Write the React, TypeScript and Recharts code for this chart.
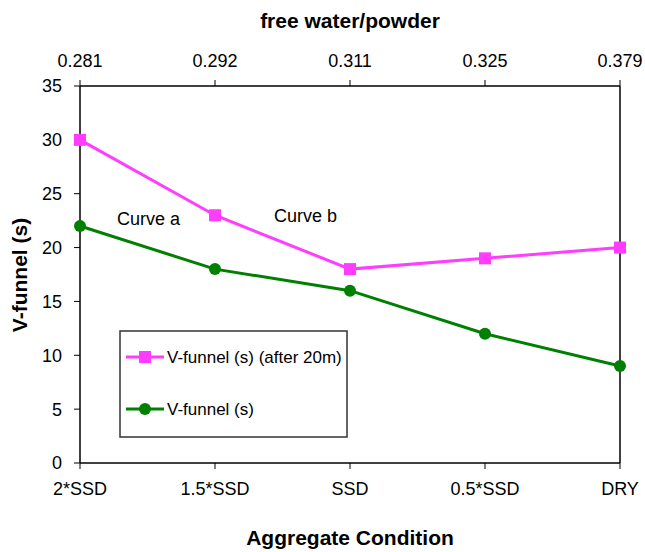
import React from "react";
import {
  LineChart,
  Line,
  XAxis,
  YAxis,
  Customized,
} from "recharts";

// ---------------------------------------------------------------------------
// Data
// ---------------------------------------------------------------------------

const CONDITIONS = ["2*SSD", "1.5*SSD", "SSD", "0.5*SSD", "DRY"];
const WATER_POWDER = ["0.281", "0.292", "0.311", "0.325", "0.379"];
const VFUNNEL_AFTER_20M = [30, 23, 18, 19, 20];
const VFUNNEL = [22, 18, 16, 12, 9];
const Y_TICKS = [0, 5, 10, 15, 20, 25, 30, 35];

const data = CONDITIONS.map((cond, i) => ({
  cond,
  wp: WATER_POWDER[i],
  after20: VFUNNEL_AFTER_20M[i],
  vf: VFUNNEL[i],
}));

const PINK = "#FF3CFF";
const GREEN = "#008000";
const FONT = "'Liberation Sans', Arial, sans-serif";

// ---------------------------------------------------------------------------
// Markers
// ---------------------------------------------------------------------------

function SquareDot(props: any) {
  const { cx, cy } = props;
  if (cx == null || cy == null) return null;
  return <rect x={cx - 6} y={cy - 6} width={12} height={12} fill={PINK} />;
}

function CircleDot(props: any) {
  const { cx, cy } = props;
  if (cx == null || cy == null) return null;
  return <circle cx={cx} cy={cy} r={6} fill={GREEN} />;
}

// ---------------------------------------------------------------------------
// Titles, curve notes and legend box
// ---------------------------------------------------------------------------

function Overlay() {
  return (
    <g fontFamily={FONT}>
      <text x={350} y={28} textAnchor="middle" fontSize={21} fontWeight="bold" fill="#000">
        free water/powder
      </text>
      <text x={350} y={545} textAnchor="middle" fontSize={21} fontWeight="bold" fill="#000">
        Aggregate Condition
      </text>
      <text
        transform="translate(27, 275) rotate(-90)"
        textAnchor="middle"
        fontSize={21}
        fontWeight="bold"
        fill="#000"
      >
        V-funnel (s)
      </text>

      <text x={117} y={225} fontSize={18} fill="#000">Curve a</text>
      <text x={274} y={222} fontSize={18} fill="#000">Curve b</text>

      <rect x={120} y={331} width={227} height={106} fill="#fff" stroke="#333" strokeWidth={1.5} />
      <line x1={126} y1={357} x2={164} y2={357} stroke={PINK} strokeWidth={3} />
      <rect x={139} y={351} width={12} height={12} fill={PINK} />
      <text x={167} y={363} fontSize={17} fill="#000">V-funnel (s) (after 20m)</text>
      <line x1={126} y1={409} x2={164} y2={409} stroke={GREEN} strokeWidth={3} />
      <circle cx={145} cy={409} r={6} fill={GREEN} />
      <text x={167} y={415} fontSize={17} fill="#000">V-funnel (s)</text>
    </g>
  );
}

// ---------------------------------------------------------------------------
// Chart
// ---------------------------------------------------------------------------

export default function App() {
  const tickStyle = { fontSize: 18, fill: "#000", fontFamily: FONT };
  const axisLine = { stroke: "#000", strokeWidth: 1.5 };

  return (
    <div style={{ position: "absolute", left: 0, top: 0, background: "#fff" }}>
      <LineChart
        width={645}
        height={552}
        data={data}
        margin={{ top: 0, right: 0, bottom: 0, left: 0 }}
      >
        <XAxis
          xAxisId="top"
          orientation="top"
          dataKey="wp"
          height={86}
          tick={tickStyle}
          tickSize={6}
          tickMargin={13}
          axisLine={axisLine}
          tickLine={{ stroke: "#000" }}
          interval={0}
        />
        <XAxis
          xAxisId="bottom"
          dataKey="cond"
          height={89}
          tick={tickStyle}
          tickSize={6}
          tickMargin={13}
          axisLine={axisLine}
          tickLine={{ stroke: "#000" }}
          interval={0}
        />
        <YAxis
          yAxisId="left"
          domain={[0, 35]}
          ticks={Y_TICKS}
          width={80}
          tick={tickStyle}
          tickSize={6}
          tickMargin={12}
          axisLine={axisLine}
          tickLine={{ stroke: "#000" }}
          interval={0}
        />
        <YAxis
          yAxisId="right"
          orientation="right"
          domain={[0, 35]}
          width={25}
          tick={false}
          tickLine={false}
          axisLine={axisLine}
        />
        <Customized component={Overlay} />
        <Line
          xAxisId="bottom"
          yAxisId="left"
          dataKey="after20"
          stroke={PINK}
          strokeWidth={3}
          dot={<SquareDot />}
          activeDot={false}
          isAnimationActive={false}
        />
        <Line
          xAxisId="bottom"
          yAxisId="left"
          dataKey="vf"
          stroke={GREEN}
          strokeWidth={3}
          dot={<CircleDot />}
          activeDot={false}
          isAnimationActive={false}
        />
      </LineChart>
    </div>
  );
}
